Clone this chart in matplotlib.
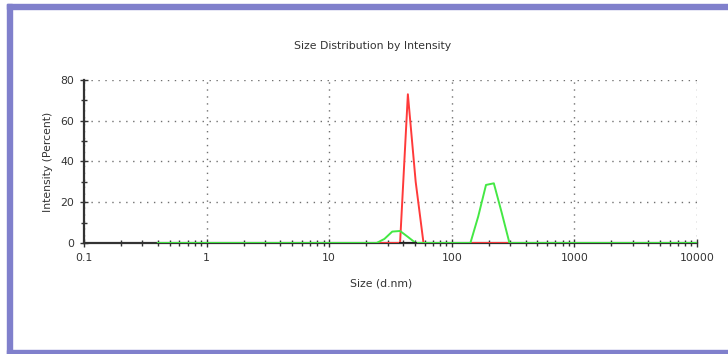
import numpy as np
import matplotlib.pyplot as plt
from matplotlib.patches import Rectangle
from matplotlib.ticker import MultipleLocator, LogLocator, FuncFormatter

plt.rcParams['font.family'] = ['DejaVu Sans']

# Zetasizer size bins (d.nm)
sizes = [0.4, 0.4632, 0.5365, 0.6213, 0.7195, 0.8332, 0.9649, 1.117, 1.294, 1.499,
         1.736, 2.010, 2.328, 2.696, 3.122, 3.615, 4.187, 4.849, 5.615, 6.503,
         7.531, 8.721, 10.10, 11.70, 13.54, 15.69, 18.17, 21.04, 24.36, 28.21,
         32.67, 37.84, 43.82, 50.75, 58.77, 68.06, 78.82, 91.28, 105.7, 122.4,
         141.8, 164.2, 190.1, 220.2, 255.0, 295.3, 342.0, 396.1, 458.7, 531.2,
         615.1, 712.4, 825.0, 955.4, 1106, 1281, 1484, 1718, 1990, 2305,
         2669, 3091, 3580, 4145, 4801, 5560, 6439, 7456, 8635, 10000]

n = len(sizes)
green = [0.0] * n
green[29:34] = [2.0, 5.6, 5.9, 3.0, 0.0]
green[40:46] = [0.0, 13.0, 28.5, 29.3, 15.0, 0.0]

red = [np.nan] * n
red[28:35] = [0.0, 0.0, 0.0, 0.0, 73.0, 30.0, 0.0]
red[40:46] = [0.0, 0.0, 0.0, 0.0, 0.0, 0.0]

black = [np.nan] * n
black[31:34] = [0.0, 0.0, 0.0]

fig = plt.figure(figsize=(7.28, 3.54), dpi=100)
ax = fig.add_axes([84 / 728, 1 - 243 / 354, (697 - 84) / 728, (243 - 80) / 354])

ax.plot(sizes, red, color='#ff3a3a', lw=1.4, zorder=3)
ax.plot(sizes, green, color='#44e844', lw=1.4, zorder=4)
ax.plot(sizes, black, color='#222222', lw=1.4, zorder=5)

ax.set_xscale('log')
ax.set_xlim(0.1, 10000)
ax.set_ylim(0, 80)
ax.xaxis.set_major_locator(LogLocator(base=10, numticks=10))
ax.xaxis.set_minor_locator(LogLocator(base=10, subs=np.arange(2, 10), numticks=20))
ax.xaxis.set_major_formatter(FuncFormatter(lambda v, p: '%g' % v))
ax.yaxis.set_major_locator(MultipleLocator(20))
ax.yaxis.set_minor_locator(MultipleLocator(10))

ax.grid(True, which='major', color='#707070', linestyle=(0, (1, 4)), lw=1.0)
for s in ['top', 'right']:
    ax.spines[s].set_visible(False)
for s in ['left', 'bottom']:
    ax.spines[s].set_color('#333333')
    ax.spines[s].set_linewidth(1.6)
ax.tick_params(which='major', direction='inout', length=6, width=1.0,
               colors='#333333', labelsize=7.8, pad=4)
ax.tick_params(which='minor', direction='inout', length=4, width=1.0, colors='#333333')

ax.set_title('Size Distribution by Intensity', fontsize=7.8, color='#333333',
             x=(373 - 84) / 613, pad=22)
ax.set_xlabel('Size (d.nm)', fontsize=7.8, color='#333333')
ax.xaxis.set_label_coords((381 - 84) / 613, -(278 - 243) / 163)
ax.set_ylabel('Intensity (Percent)', fontsize=7.8, color='#333333', labelpad=5)

border = '#8080cc'
fig.patches.append(Rectangle((7 / 728, 0), 5 / 728, 1 - 4 / 354, transform=fig.transFigure,
                             color=border, zorder=0))
fig.patches.append(Rectangle((7 / 728, 1 - 9 / 354), 1, 5 / 354, transform=fig.transFigure,
                             color=border, zorder=0))
fig.patches.append(Rectangle((7 / 728, 0), 1, 4 / 354, transform=fig.transFigure,
                             color=border, zorder=0))

fig.savefig('out.png', dpi=100)
